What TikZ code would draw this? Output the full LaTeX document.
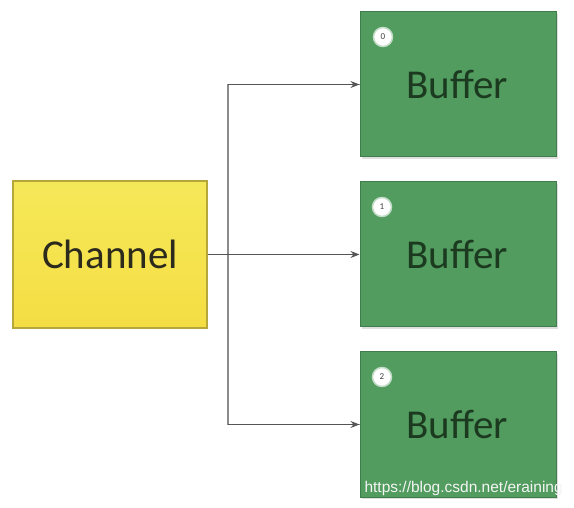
\documentclass[tikz,border=0pt]{standalone}
\usepackage{fontspec}
\setmainfont{Carlito}
\newfontfamily\markfont{Liberation Sans}
\usetikzlibrary{arrows.meta,shadows}
\definecolor{ink}{HTML}{2B2A1C}
\definecolor{leaf}{HTML}{1C3A20}
\definecolor{chanfill}{HTML}{F4E64A}
\definecolor{chanline}{HTML}{B5A73A}
\definecolor{buffill}{HTML}{519C5E}
\definecolor{bufline}{HTML}{3F7D4A}
\definecolor{wire}{HTML}{8C8C8C}
\definecolor{tip}{HTML}{555555}
\newcommand{\boxfont}{\fontsize{41}{46}\selectfont}
\tikzset{
 chan/.style={draw=chanline,line width=1.2pt,top color=chanfill!92!white,bottom color=chanfill!92!orange,minimum width=194,minimum height=147,font=\boxfont,text=ink},
 buf/.style={draw=bufline,line width=1pt,fill=buffill,minimum width=196,minimum height=145,font=\boxfont,text=leaf,drop shadow={shadow xshift=2pt,shadow yshift=-2pt,opacity=.25}},
 tag/.style={circle,draw=buffill!35!white,line width=1.5pt,fill=white,minimum size=19,inner sep=0pt,font=\fontsize{9}{9}\selectfont,text=darkgray},
 trunk/.style={draw=wire,line width=1.6pt},
 flow/.style={-{Stealth[length=9pt,width=7pt]},draw=tip,line width=1.3pt},
}

\begin{document}
\begin{tikzpicture}[x=1pt,y=-1pt]

\useasboundingbox (0,0) rectangle (574,508);
\node[chan] (chan) at (110,254.5) {Channel};
\node[buf] (buf0) at (458,84.5) {};
\node[buf] (buf1) at (458,254.5) {};
\node[buf] (buf2) at (458,424.5) {};
\node[font=\boxfont,text=leaf] (lab0) at (457,84) {Buffer};
\node[font=\boxfont,text=leaf] (lab1) at (457,254) {Buffer};
\node[font=\boxfont,text=leaf] (lab2) at (457,424) {Buffer};
\node[tag] (tag0) at (383,37) {0};
\node[tag] (tag1) at (382,207) {1};
\node[tag] (tag2) at (382,377) {2};
\coordinate (split) at (228,254.5);
\draw[trunk] (split) |- (buf0.west);
\draw[trunk] (split) |- (buf2.west);
\draw[flow] (chan.east) -- (buf1.west);
\draw[flow] (split |- buf0.west) -- (buf0.west);
\draw[flow] (split |- buf2.west) -- (buf2.west);
\node[font=\markfont\fontsize{15.5}{17}\selectfont,text=white!92!gray,anchor=west] (mark) at (361,488) {https://blog.csdn.net/eraining};

\end{tikzpicture}
\end{document}
